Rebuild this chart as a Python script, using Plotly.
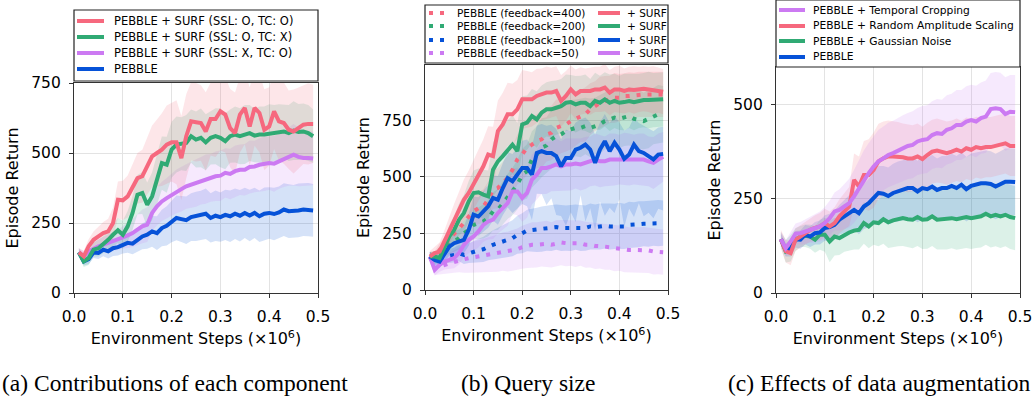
import plotly.graph_objects as go

W, H = 1036, 400

steps = [0.01, 0.02, 0.03, 0.04, 0.05, 0.06, 0.07, 0.08, 0.09, 0.10,
         0.11, 0.12, 0.13, 0.14, 0.15, 0.16, 0.17, 0.18, 0.19, 0.20,
         0.21, 0.22, 0.23, 0.24, 0.25, 0.26, 0.27, 0.28, 0.29, 0.30,
         0.31, 0.32, 0.33, 0.34, 0.35, 0.36, 0.37, 0.38, 0.39, 0.40,
         0.41, 0.42, 0.43, 0.44, 0.45, 0.46, 0.47, 0.48, 0.49]

# ---------------- Panel (a) ----------------
a_full = [145,131,167,190,202,214,220,250,333,331,345,381,410,417,452,488,500,512,530,538,
          538,482,560,613,610,607,577,621,621,649,637,589,571,637,661,595,661,643,583,595,
          649,613,607,583,577,589,601,604,604]
a_no_tc = [145,113,125,155,160,173,190,208,224,208,238,286,351,357,315,345,405,464,458,512,
           530,533,536,560,548,554,538,554,560,554,542,560,566,560,566,571,562,566,566,569,
           571,574,577,571,580,575,577,571,560]
a_no_ssl = [145,131,149,160,167,173,179,185,190,199,206,214,226,238,244,286,310,327,339,351,
            363,371,381,387,393,401,407,411,417,419,429,425,435,440,440,450,452,458,462,464,
            462,470,479,488,494,486,482,482,480]
a_pebble = [145,113,121,145,143,155,149,160,164,173,179,176,190,202,208,220,214,232,240,256,
            268,264,260,271,274,277,283,268,276,271,279,274,283,276,286,277,286,274,283,286,
            282,288,298,292,292,295,298,298,295]
a_full_sd = [15,20,25,30,35,40,45,55,65,70,75,80,90,95,100,110,120,130,140,140,
             150,150,150,140,140,135,140,130,135,140,135,140,145,135,130,140,135,140,145,140,
             135,140,145,140,150,145,140,145,140]
a_no_tc_sd = [15,20,25,25,30,30,35,40,45,50,55,60,70,75,80,85,90,95,100,100,
              100,95,100,95,100,105,100,95,100,105,100,95,100,100,105,100,95,100,100,105,
              100,100,95,100,105,100,100,100,95]
a_no_ssl_sd = [15,18,20,22,25,28,30,33,36,40,45,50,55,60,62,65,68,70,72,75,
               78,80,80,82,85,85,88,85,88,90,88,90,92,90,92,95,92,95,98,95,
               100,98,100,105,110,105,100,98,95]
a_pebble_sd = [15,15,18,20,22,24,26,28,30,32,35,38,42,46,50,55,60,65,70,75,
               80,82,85,85,88,88,90,88,90,88,90,92,90,92,90,92,90,92,94,92,
               94,92,94,96,94,96,94,95,94]

# ---------------- Panel (b) ----------------
b_surf400 = [148,163,170,214,266,311,355,399,429,466,510,547,599,592,703,732,777,777,799,843,
             843,843,858,865,873,873,880,836,858,887,865,880,880,880,887,887,895,873,887,887,
             880,887,884,887,890,887,884,884,877]
b_surf200 = [148,148,141,192,237,266,311,340,392,429,432,422,414,532,569,592,621,643,614,732,
             740,769,754,784,799,799,806,813,828,831,821,828,828,813,836,828,843,828,836,828,
             831,836,831,836,840,840,840,843,843]
b_surf100 = [148,133,126,163,192,207,214,222,266,333,325,348,370,407,399,451,495,481,510,540,
             540,510,606,614,606,606,592,547,584,584,621,629,643,621,562,621,658,614,651,621,
             580,599,643,614,606,592,577,599,602]
b_surf50 = [148,89,111,126,133,141,163,200,222,237,259,288,303,311,340,362,384,436,436,407,
            429,488,510,540,540,547,555,547,555,555,559,555,562,569,577,569,569,577,577,577,
            580,577,577,577,577,569,562,577,589]
b_fb400 = [148,148,177,200,222,251,274,296,325,348,362,370,399,444,451,473,495,532,577,599,
           629,643,658,666,688,695,717,725,732,747,757,769,777,799,813,828,836,843,850,850,
           858,858,861,865,865,865,865,865,865]
b_fb200 = [148,141,163,185,200,214,229,251,266,288,296,303,318,348,355,384,414,436,466,510,
           525,577,599,629,639,666,680,688,703,710,717,717,725,717,725,732,747,754,762,757,
           762,769,757,754,747,757,769,777,777]
b_fb100 = [148,133,141,148,151,155,163,155,163,170,175,180,192,200,207,214,222,229,244,251,
           263,266,266,269,274,274,278,274,274,274,278,274,274,281,278,281,284,281,281,284,
           281,288,288,291,293,293,296,296,296]
b_fb50 = [148,96,104,111,118,126,133,136,141,145,148,151,155,160,163,170,170,175,180,189,
          195,200,200,204,204,200,207,210,207,207,204,207,200,200,195,195,192,189,185,185,
          180,177,177,177,177,175,170,170,167]
b_surf400_sd = [25,30,40,50,60,70,80,90,100,110,115,120,125,130,135,140,140,135,130,130,
                125,120,120,115,115,110,110,115,110,105,110,105,100,105,100,100,105,100,100,105,
                100,100,105,100,100,100,105,100,100]
b_surf200_sd = [20,25,30,40,50,60,70,80,90,100,105,110,115,120,125,130,130,130,125,125,
                120,120,125,120,120,125,120,120,125,120,125,120,125,120,125,120,120,125,120,120,
                125,120,125,120,120,125,120,120,120]
b_surf100_up = [20,25,30,35,40,50,55,60,70,80,85,90,95,100,105,110,115,120,120,120,
                125,125,120,120,120,125,120,120,125,120,120,125,120,120,125,120,120,125,120,120,
                125,120,120,125,120,120,125,120,120]
b_surf100_lo = [20,25,30,35,40,50,55,60,70,80,85,90,95,100,110,120,130,140,150,160,
                170,200,180,190,230,200,260,220,300,240,320,210,340,260,300,230,330,250,310,220,
                300,240,320,230,280,250,260,240,250]
b_surf50_sd = [20,25,30,35,40,45,50,55,60,65,70,75,80,85,90,95,100,100,105,105,
               110,110,110,115,115,110,115,110,115,115,110,115,115,110,115,115,110,115,115,110,
               115,115,110,115,115,110,115,115,110]
b_fb400_sd = [20,25,30,35,40,45,50,55,60,65,70,75,80,85,90,95,100,105,110,115,
              120,120,120,125,120,120,125,120,120,125,120,115,120,115,110,115,110,105,110,105,
              100,105,100,100,100,100,100,100,100]
b_fb200_sd = [20,25,30,35,40,45,50,55,60,65,70,75,80,85,90,95,100,105,110,115,
              120,125,125,130,125,130,125,130,125,130,125,130,125,130,125,130,125,130,125,130,
              125,130,125,130,125,130,125,130,125]
b_fb100_sd = [20,22,25,28,30,33,36,40,44,48,52,56,60,64,68,72,76,80,84,88,
              92,95,98,100,100,102,100,102,100,102,100,102,100,102,100,102,100,102,100,102,
              100,102,100,102,100,102,100,102,100]
b_fb50_sd = [25,30,35,40,45,50,55,60,65,70,72,75,78,80,82,85,88,90,92,95,
             98,100,100,100,102,100,102,100,102,100,102,100,102,100,102,100,102,100,102,100,
             102,100,102,100,102,100,102,100,100]

# ---------------- Panel (c) ----------------
c_tc = [143,119,137,158,159,164,168,173,177,186,199,217,221,230,239,257,279,301,319,336,
        350,358,367,372,379,385,391,394,403,407,409,420,425,423,434,438,447,447,456,460,
        456,465,469,489,491,489,476,482,481]
c_ras = [143,111,106,142,150,159,168,173,177,186,177,186,204,217,230,301,283,314,314,327,
         350,358,363,363,363,361,358,358,363,356,367,376,379,376,372,376,381,376,385,381,
         388,385,388,388,391,394,398,391,391]
c_pebble = [143,115,117,143,142,155,150,159,161,173,175,181,195,204,211,221,212,230,239,252,
            266,264,258,266,270,273,279,279,270,279,276,283,274,279,279,285,279,288,276,285,
            288,292,292,290,283,290,296,296,295]
c_gauss = [143,111,119,142,150,152,150,142,155,155,137,150,146,155,161,166,168,186,177,188,
           186,196,188,193,196,199,196,195,202,195,196,204,195,196,196,199,196,199,202,199,
           202,204,211,204,208,204,208,202,199]
c_tc_sd = [20,22,25,27,30,32,35,38,40,43,46,50,55,60,65,70,75,78,80,82,
           84,85,86,86,87,88,88,89,89,90,90,90,91,91,92,92,93,93,94,94,
           95,95,96,96,97,97,98,98,99]
c_ras_sd = [25,30,32,30,30,30,32,34,36,38,40,42,45,48,52,70,80,90,95,100,
            100,98,96,94,92,90,90,88,88,86,86,85,85,84,84,83,83,82,82,82,
            81,81,80,80,80,80,80,80,80]
c_pebble_sd = [15,18,20,22,24,26,28,30,32,34,36,38,40,44,48,52,56,60,64,68,
               72,74,76,78,80,80,82,82,82,84,84,84,84,85,85,85,85,86,86,86,
               86,86,87,87,87,87,88,88,88]
c_gauss_sd = [20,30,35,30,28,30,32,35,40,45,55,50,45,45,48,50,52,55,58,60,
              62,65,68,70,72,74,75,76,77,78,78,79,79,80,80,80,81,81,82,82,
              82,83,83,83,84,84,84,85,85]

legend_a = ["PEBBLE + SURF (SSL: O, TC: O)", "PEBBLE + SURF (SSL: O, TC: X)",
            "PEBBLE + SURF (SSL: X, TC: O)", "PEBBLE"]
legend_b = ["PEBBLE (feedback=400)", "PEBBLE (feedback=200)",
            "PEBBLE (feedback=100)", "PEBBLE (feedback=50)"]
legend_c = ["PEBBLE + Temporal Cropping", "PEBBLE + Random Amplitude Scaling",
            "PEBBLE + Gaussian Noise", "PEBBLE"]
captions = ["(a) Contributions of each component", "(b) Query size",
            "(c) Effects of data augmentation"]

RED = (246, 104, 126)
GREEN = (48, 170, 116)
BLUE = (6, 82, 216)
PURPLE = (204, 122, 242)


def rgb(c, a=1.0):
    return f"rgba({c[0]},{c[1]},{c[2]},{a})"


fig = go.Figure()


def add_series(xa, ya, y, up, lo, color, dash="solid"):
    upper = [v + u for v, u in zip(y, up)]
    lower = [v - l for v, l in zip(y, lo)]
    fig.add_trace(go.Scatter(
        x=steps + steps[::-1], y=upper + lower[::-1], fill="toself",
        fillcolor=rgb(color, 0.17), line=dict(width=0), mode="lines",
        xaxis=xa, yaxis=ya, showlegend=False, hoverinfo="skip"))
    return dict(x=steps, y=y, mode="lines", xaxis=xa, yaxis=ya, showlegend=False,
                line=dict(color=rgb(color), width=4, dash=dash))


lines = []
# panel a
lines.append(add_series("x", "y", a_pebble, a_pebble_sd, a_pebble_sd, BLUE))
lines.append(add_series("x", "y", a_no_ssl, a_no_ssl_sd, a_no_ssl_sd, PURPLE))
lines.append(add_series("x", "y", a_no_tc, a_no_tc_sd, a_no_tc_sd, GREEN))
lines.append(add_series("x", "y", a_full, a_full_sd, a_full_sd, RED))
# panel b
DOT = "4px,7px"
lines.append(add_series("x2", "y2", b_fb50, b_fb50_sd, b_fb50_sd, PURPLE, DOT))
lines.append(add_series("x2", "y2", b_fb100, b_fb100_sd, b_fb100_sd, BLUE, DOT))
lines.append(add_series("x2", "y2", b_fb200, b_fb200_sd, b_fb200_sd, GREEN, DOT))
lines.append(add_series("x2", "y2", b_fb400, b_fb400_sd, b_fb400_sd, RED, DOT))
lines.append(add_series("x2", "y2", b_surf50, b_surf50_sd, b_surf50_sd, PURPLE))
lines.append(add_series("x2", "y2", b_surf100, b_surf100_up, b_surf100_lo, BLUE))
lines.append(add_series("x2", "y2", b_surf200, b_surf200_sd, b_surf200_sd, GREEN))
lines.append(add_series("x2", "y2", b_surf400, b_surf400_sd, b_surf400_sd, RED))
# panel c
lines.append(add_series("x3", "y3", c_gauss, c_gauss_sd, c_gauss_sd, GREEN))
lines.append(add_series("x3", "y3", c_pebble, c_pebble_sd, c_pebble_sd, BLUE))
lines.append(add_series("x3", "y3", c_ras, c_ras_sd, c_ras_sd, RED))
lines.append(add_series("x3", "y3", c_tc, c_tc_sd, c_tc_sd, PURPLE))
for ln in lines:
    fig.add_trace(go.Scatter(**ln, hoverinfo="skip"))


def px(x):
    return x / W


def py(y):
    return 1 - y / H


TICKF = dict(family="DejaVu Sans", size=15.5, color="black")
TITLEF = dict(family="DejaVu Sans", size=16, color="black")

panels = [  # left, right, top, bottom, ymax, yticks
    (74, 318, 83, 293, 750, [0, 250, 500, 750]),
    (425, 668, 65, 290, 995, [0, 250, 500, 750]),
    (776, 1020, 67, 293, 601, [0, 250, 500]),
]
layout = {}
for i, (l, r, t, b, ymax, yt) in enumerate(panels):
    sx = "" if i == 0 else str(i + 1)
    layout["xaxis" + sx] = dict(
        domain=[px(l), px(r)], anchor="y" + sx, range=[0, 0.5],
        tickvals=[0, 0.1, 0.2, 0.3, 0.4, 0.5], tickformat=".1f",
        showgrid=True, gridcolor="#e3e3e3", gridwidth=1, zeroline=False,
        showline=True, linecolor="#333333", linewidth=1.3, mirror=True,
        ticks="outside", ticklen=4, tickcolor="#333333", tickfont=TICKF,
        ticklabelstandoff=5,
        title=dict(text="Environment Steps (×10<sup>6</sup>)", font=TITLEF, standoff=8))
    layout["yaxis" + sx] = dict(
        domain=[py(b), py(t)], anchor="x" + sx, range=[0, ymax], tickvals=yt,
        showgrid=True, gridcolor="#e3e3e3", gridwidth=1, zeroline=False,
        showline=True, linecolor="#333333", linewidth=1.3, mirror=True,
        ticks="outside", ticklen=4, tickcolor="#333333", tickfont=TICKF,
        ticklabelstandoff=5,
        title=dict(text="Episode Return", font=TITLEF, standoff=8))

shapes = []
annotations = []


def legend_box(x0, x1, y0, y1):
    shapes.append(dict(type="rect", xref="paper", yref="paper",
                       x0=px(x0), x1=px(x1), y0=py(y1), y1=py(y0),
                       line=dict(color="#222222", width=1.2), fillcolor="white", layer="above"))


def legend_item(sx0, sx1, y, tx, text, color, dash, font):
    shapes.append(dict(type="line", xref="paper", yref="paper",
                       x0=px(sx0), x1=px(sx1), y0=py(y), y1=py(y),
                       line=dict(color=rgb(color), width=4, dash=dash), layer="above"))
    annotations.append(dict(text=text, xref="paper", yref="paper", x=px(tx), y=py(y),
                            xanchor="left", yanchor="middle", showarrow=False, font=font))


# legend (a)
LFA = dict(family="DejaVu Sans", size=11.5, color="black")
legend_box(74, 318, 10, 81)
for yy, txt, col in zip([21, 37, 53, 69], legend_a, [RED, GREEN, PURPLE, BLUE]):
    legend_item(77, 104, yy, 112, txt, col, "solid", LFA)
# legend (b)
LFB = dict(family="DejaVu Sans", size=10.5, color="black")
legend_box(425, 668, 5, 63)
for yy, txt, col in zip([13, 26, 40, 53], legend_b, [RED, GREEN, BLUE, PURPLE]):
    legend_item(429, 444, yy, 455, txt, col, DOT, LFB)
    legend_item(598, 620, yy, 625, "+ SURF", col, "solid", LFB)
# legend (c)
LFC = dict(family="DejaVu Sans", size=10.7, color="black")
legend_box(776, 1020, 0, 67)
for yy, txt, col in zip([10, 26, 41, 57], legend_c, [PURPLE, RED, GREEN, BLUE]):
    legend_item(779, 805, yy, 811, txt, col, "solid", LFC)

# captions
CF = dict(family="Liberation Serif", size=23.5, color="black")
for cx, txt in zip([175, 528, 879], captions):
    annotations.append(dict(text=txt, xref="paper", yref="paper", x=px(cx), y=py(383),
                            xanchor="center", yanchor="middle", showarrow=False, font=CF))

fig.update_layout(
    width=W, height=H, margin=dict(l=0, r=0, t=0, b=0, autoexpand=False),
    paper_bgcolor="white", plot_bgcolor="white", showlegend=False,
    shapes=shapes, annotations=annotations, **layout)

fig.write_html("out.html")
